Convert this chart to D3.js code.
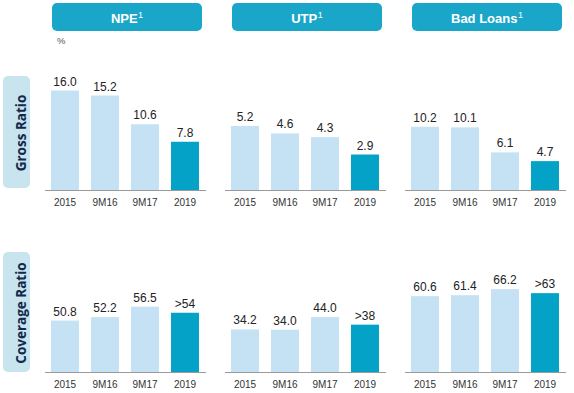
<!DOCTYPE html>
<html><head><meta charset="utf-8">
<script src="https://cdn.jsdelivr.net/npm/d3@7"></script>
<style>
html,body{margin:0;padding:0;background:#fff;}
svg{display:block;}
</style>
</head><body>
<svg id="chart" width="574" height="393"></svg>
<script>
// ---- data ----
const categories = ["2015", "9M16", "9M17", "2019"];
const metrics = ["NPE", "UTP", "Bad Loans"];
const rowTitles = ["Gross Ratio", "Coverage Ratio"];
const unitLabel = "%";

const grossNPE = [16.0, 15.2, 10.6, 7.8];
const grossUTP = [5.2, 4.6, 4.3, 2.9];
const grossBadLoans = [10.2, 10.1, 6.1, 4.7];

const coverageNPE = [50.8, 52.2, 56.5, 54];
const coverageUTP = [34.2, 34.0, 44.0, 38];
const coverageBadLoans = [60.6, 61.4, 66.2, 63];

const grossLabels = [
  ["16.0", "15.2", "10.6", "7.8"],
  ["5.2", "4.6", "4.3", "2.9"],
  ["10.2", "10.1", "6.1", "4.7"]
];
const coverageLabels = [
  ["50.8", "52.2", "56.5", ">54"],
  ["34.2", "34.0", "44.0", ">38"],
  ["60.6", "61.4", "66.2", ">63"]
];

// y domains per panel (value axis scaling)
const grossDomains = [[0, 16], [0, 8.06], [0, 16]];
const coverageDomains = [[29.5, 70.5], [0, 79.4], [0, 79.4]];

// ---- layout ----
const svg = d3.select("#chart");
const panelX = [45, 225, 405];
const panelW = 160;
const rowBase = [190.5, 372.5];
const plotH = 100;

const C = {
  header: "#1aa6c9",
  light: "#c4e2f3",
  dark: "#04a2c7",
  sideBox: "#c7e4ef",
  sideText: "#13294a",
  axis: "#9a9a9a",
  text: "#222",
  tick: "#333"
};

// headers
metrics.forEach((m, i) => {
  const g = svg.append("g");
  g.append("rect")
    .attr("x", panelX[i] + 7).attr("y", 3)
    .attr("width", 150).attr("height", 28)
    .attr("rx", 5).attr("ry", 5)
    .attr("fill", C.header);
  const t = g.append("text")
    .attr("x", panelX[i] + 82).attr("y", 22.5)
    .attr("text-anchor", "middle")
    .attr("font-family", "Liberation Sans, Arial, sans-serif")
    .attr("fill", "#fff");
  t.append("tspan").attr("font-weight", "bold").attr("font-size", 13).text(m);
  t.append("tspan").attr("font-size", 9).attr("dy", -5).attr("dx", 0.5).text("1");
});

svg.append("text")
  .attr("x", 57).attr("y", 44)
  .attr("font-family", "Liberation Sans, Arial, sans-serif")
  .attr("font-size", 9.5).attr("fill", "#555")
  .text(unitLabel);

// side labels
const sideBoxes = [[76, 188], [252, 372]];
rowTitles.forEach((r, j) => {
  const [y0, y1] = sideBoxes[j];
  svg.append("rect")
    .attr("x", 3).attr("y", y0)
    .attr("width", 27).attr("height", y1 - y0)
    .attr("rx", 5).attr("ry", 5)
    .attr("fill", C.sideBox);
  svg.append("text")
    .attr("transform", `translate(${25.5},${(y0 + y1) / 2 + 1}) rotate(-90)`)
    .attr("text-anchor", "middle")
    .attr("font-family", "Open Sans, Liberation Sans, sans-serif")
    .attr("font-weight", "bold")
    .attr("font-size", 13.5)
    .attr("fill", C.sideText)
    .text(r);
});

const rows = [
  { series: [grossNPE, grossUTP, grossBadLoans], labels: grossLabels, domains: grossDomains },
  { series: [coverageNPE, coverageUTP, coverageBadLoans], labels: coverageLabels, domains: coverageDomains }
];

rows.forEach((row, j) => {
  const base = rowBase[j];
  row.series.forEach((vals, i) => {
    const x = d3.scaleBand()
      .domain(categories)
      .range([panelX[i], panelX[i] + panelW])
      .paddingInner(0.3)
      .paddingOuter(0.15);
    const y = d3.scaleLinear()
      .domain(row.domains[i])
      .range([base, base - plotH]);
    const g = svg.append("g");
    const data = categories.map((c, k) => ({ c, v: vals[k], label: row.labels[i][k], k }));

    g.selectAll("rect.bar").data(data).enter().append("rect")
      .attr("class", "bar")
      .attr("x", d => x(d.c))
      .attr("y", d => y(d.v))
      .attr("width", x.bandwidth())
      .attr("height", d => base - y(d.v))
      .attr("fill", d => d.k === categories.length - 1 ? C.dark : C.light);

    g.selectAll("text.val").data(data).enter().append("text")
      .attr("class", "val")
      .attr("x", d => x(d.c) + x.bandwidth() / 2)
      .attr("y", d => y(d.v) - 5)
      .attr("text-anchor", "middle")
      .attr("font-family", "Liberation Sans, Arial, sans-serif")
      .attr("font-size", 12)
      .attr("fill", C.text)
      .text(d => d.label);

    const axis = d3.axisBottom(x).tickSize(0).tickPadding(8);
    const ag = g.append("g")
      .attr("transform", `translate(0,${base})`)
      .call(axis);
    ag.select(".domain")
      .attr("d", `M${panelX[i]},0H${panelX[i] + panelW + 1}`)
      .attr("stroke", C.axis).attr("stroke-width", 1.2);
    ag.selectAll("text")
      .attr("font-family", "Liberation Sans, Arial, sans-serif")
      .attr("font-size", 10)
      .attr("fill", C.tick);
  });
});
</script>
</body></html>
